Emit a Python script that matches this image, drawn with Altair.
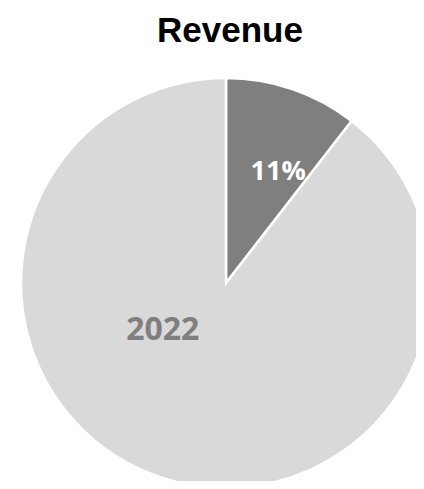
import altair as alt
import pandas as pd

# Data
labels = ["11%", "2022"]
values = [10.5, 89.5]
order = [0, 1]
slice_colors = ["#7F7F7F", "#D9D9D9"]
label_colors = ["#FFFFFF", "#7F7F7F"]

df = pd.DataFrame({"label": labels, "value": values, "order": order})
total = sum(values)
theta_scale = alt.Scale(domain=[0, total])

CX, CY = 218, 225

base = alt.Chart(df)

pie = base.mark_arc(radius=205, stroke="white", strokeWidth=2.5).encode(
    theta=alt.Theta("value:Q", stack=True, scale=theta_scale),
    color=alt.Color("label:N", scale=alt.Scale(domain=labels, range=slice_colors), legend=None),
    order=alt.Order("order:Q"),
    x=alt.value(CX),
    y=alt.value(CY),
)

stacked = base.transform_stack(
    stack="value", as_=["v0", "v1"], groupby=[], sort=[alt.SortField("order")]
).transform_calculate(mid="(datum.v0 + datum.v1) / 2")

lab1 = stacked.transform_filter(alt.datum.order == 0).mark_text(
    radius=124, dx=12, dy=6, font="Open Sans", fontWeight="bold", fontSize=27,
    color=label_colors[0], align="center", baseline="middle",
).encode(
    theta=alt.Theta("mid:Q", stack=None, scale=theta_scale),
    text="label:N",
    x=alt.value(CX),
    y=alt.value(CY),
)

lab2 = stacked.transform_filter(alt.datum.order == 1).mark_text(
    radius=50, dx=-47, dy=0, font="Open Sans", fontWeight="bold", fontSize=32,
    color=label_colors[1], align="center", baseline="middle",
).encode(
    theta=alt.Theta("mid:Q", stack=None, scale=theta_scale),
    text="label:N",
    x=alt.value(CX),
    y=alt.value(CY),
)

chart = alt.layer(pie, lab1, lab2).properties(
    width=408,
    height=423,
    title=alt.TitleParams(
        "Revenue", font="Liberation Sans", fontSize=35, fontWeight="bold",
        color="black", anchor="middle", offset=9, dx=18,
    ),
    autosize=alt.AutoSizeParams(type="none"),
    padding={"left": 0, "top": 50, "right": 0, "bottom": 0},
).configure_view(stroke=None)

chart.save("out.html", embed_options={"renderer": "svg", "actions": False})
